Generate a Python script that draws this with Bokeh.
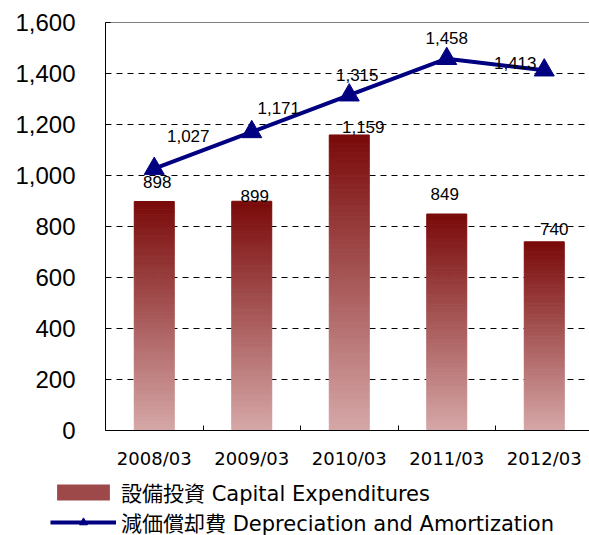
from bokeh.plotting import figure
from bokeh.models import (ColumnDataSource, FixedTicker, Span, Legend, LegendItem,
                          Range1d, NumeralTickFormatter)
from bokeh.core.properties import value
from bokeh.embed import file_html
from bokeh.resources import INLINE

# ---- data ----
categories = ["2008/03", "2009/03", "2010/03", "2011/03", "2012/03"]
capex = [898, 899, 1159, 849, 740]
depreciation = [1027, 1171, 1315, 1458, 1413]
y_ticks = [0, 200, 400, 600, 800, 1000, 1200, 1400, 1600]
series_names = ["設備投資 Capital Expenditures", "減価償却費 Depreciation and Amortization"]

# ---- label nudges (screen px) ----
capex_label_dx = [3, 3, 14, -2, 10]
capex_label_dy = [-20, -5, -8, -20, -13]
dep_label_dx = [34, 27, 8, 0, -29]
dep_label_dy = [-33, -24, -20, -21, -7]

FONT = "Liberation Sans, Noto Sans CJK JP"
WIDE_FONT = "DejaVu Sans, Noto Sans CJK JP"
LINE_COLOR = "#000080"
TOP_RGB = (122, 10, 10)
BOT_RGB = (214, 168, 168)
xs = [i + 1 for i in range(len(categories))]

p = figure(width=589, height=472, output_backend="svg", toolbar_location=None,
           x_range=Range1d(0.5, 0.5 + 484 / 97.5), y_range=Range1d(0, 1600),
           min_border_left=105, min_border_right=0, min_border_top=22, min_border_bottom=42)
p.outline_line_color = None
p.background_fill_color = "white"
p.border_fill_color = "white"

# grid
p.xgrid.visible = False
p.ygrid.ticker = FixedTicker(ticks=y_ticks)
p.ygrid.grid_line_color = "black"
p.ygrid.grid_line_dash = "6 5"
p.ygrid.grid_line_width = 1

# y axis
p.yaxis.ticker = FixedTicker(ticks=y_ticks)
p.yaxis.formatter = NumeralTickFormatter(format="0,0")
p.yaxis.major_tick_in = 5
p.yaxis.major_tick_out = 0
p.yaxis.minor_tick_line_color = None
p.yaxis.major_tick_line_color = "black"
p.yaxis.axis_line_color = "black"
p.yaxis.major_label_standoff = 30
p.yaxis.major_label_text_font = FONT
p.yaxis.major_label_text_font_size = "24px"
p.yaxis.major_label_text_color = "black"

# x axis
p.xaxis.ticker = FixedTicker(ticks=xs, minor_ticks=[x + 0.5 for x in xs[:-1]])
p.xaxis.major_label_overrides = {x: c for x, c in zip(xs, categories)}
p.xaxis.major_tick_line_color = None
p.xaxis.major_tick_in = 0
p.xaxis.major_tick_out = 0
p.xaxis.minor_tick_in = 5
p.xaxis.minor_tick_out = 0
p.xaxis.minor_tick_line_color = "black"
p.xaxis.axis_line_color = "black"
p.xaxis.major_label_standoff = 17
p.xaxis.major_label_text_font = WIDE_FONT
p.xaxis.major_label_text_font_size = "18px"
p.xaxis.major_label_text_color = "black"

p.add_layout(Span(location=1600, dimension="width", line_color="black", line_width=1))

# gradient bars built from slices of each value
N = 120
bx, bbot, btop, bcol = [], [], [], []
for x, v in zip(xs, capex):
    for k in range(N):
        f = (k + 0.5) / N
        r, g, b = (int(round(BOT_RGB[j] + (TOP_RGB[j] - BOT_RGB[j]) * f)) for j in range(3))
        bx.append(x)
        bbot.append(v * k / N)
        btop.append(v * (k + 1) / N)
        bcol.append("#%02x%02x%02x" % (r, g, b))
bar_src = ColumnDataSource(dict(x=bx, bottom=bbot, top=btop, color=bcol))
p.vbar(x="x", bottom="bottom", top="top", width=40 / 97.5, fill_color="color",
       line_color="color", line_width=1, source=bar_src)

# line
line_src = ColumnDataSource(dict(x=xs, y=depreciation))
p.line("x", "y", source=line_src, line_color=LINE_COLOR, line_width=4)
p.scatter("x", "y", source=line_src, marker="triangle", size=20,
          fill_color=LINE_COLOR, line_color=LINE_COLOR)

# labels
cap_lbl = ColumnDataSource(dict(x=xs, y=capex, t=[f"{v:,}" for v in capex],
                                dx=capex_label_dx, dy=capex_label_dy))
p.text("x", "y", text="t", x_offset="dx", y_offset="dy", source=cap_lbl,
       text_align="center", text_baseline="middle", text_font=value(FONT),
       text_font_size="17px", text_color="black")
dep_lbl = ColumnDataSource(dict(x=xs, y=depreciation, t=[f"{v:,}" for v in depreciation],
                                dx=dep_label_dx, dy=dep_label_dy))
p.text("x", "y", text="t", x_offset="dx", y_offset="dy", source=dep_lbl,
       text_align="center", text_baseline="middle", text_font=value(FONT),
       text_font_size="17px", text_color="black")

# ---- legend strip (series drawn out of view; only the legend shows) ----
lg = figure(width=589, height=63, output_backend="svg", toolbar_location=None,
            x_axis_location=None, y_axis_location=None,
            x_range=Range1d(-100, -99), y_range=Range1d(-100, -99),
            min_border_left=0, min_border_right=0, min_border_top=0, min_border_bottom=0)
lg.grid.visible = False
lg.outline_line_color = None
mid = "#%02x%02x%02x" % tuple((TOP_RGB[j] * 3 + BOT_RGB[j] * 2) // 5 for j in range(3))
bar_proxy = lg.vbar(x=xs, top=capex, width=0.4, fill_color=mid, line_color=None)
line_proxy = lg.line(x=xs, y=depreciation, line_color=LINE_COLOR, line_width=4)
pt_proxy = lg.scatter(x=xs, y=depreciation, marker="triangle", size=14,
                      fill_color=LINE_COLOR, line_color=LINE_COLOR)
legend = Legend(items=[
    LegendItem(label=series_names[0], renderers=[bar_proxy]),
    LegendItem(label=series_names[1], renderers=[line_proxy, pt_proxy]),
], location=(50, -2), orientation="vertical", glyph_width=66, glyph_height=20,
    label_height=20, spacing=0, padding=0, margin=0, border_line_color=None,
    background_fill_alpha=0, label_text_font=WIDE_FONT, label_text_font_size="21px",
    label_standoff=5, label_text_color="black")
lg.add_layout(legend, "center")

open("out.html", "w").write(file_html([p, lg], INLINE))
